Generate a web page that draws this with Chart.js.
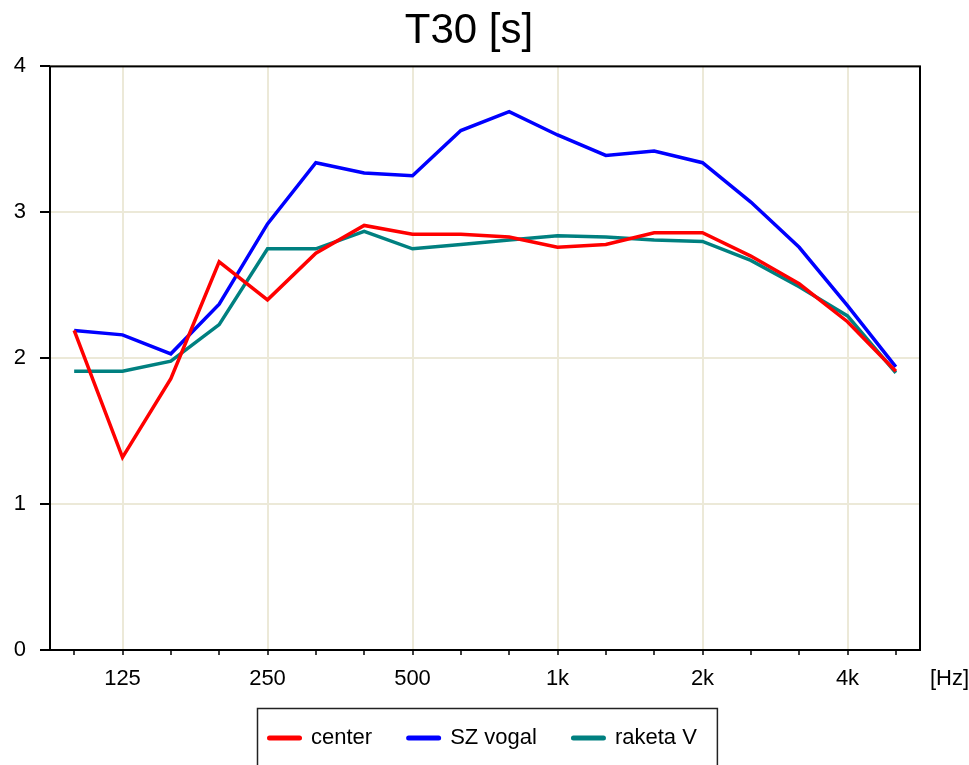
<!DOCTYPE html>
<html><head><meta charset="utf-8">
<script src="https://cdn.jsdelivr.net/npm/chart.js@4/dist/chart.umd.min.js"></script>
<style>html,body{margin:0;padding:0;background:#fff;overflow:hidden}</style>
</head><body>
<canvas id="c" width="969" height="765"></canvas>
<script>
const bands = ['100','125','160','200','250','315','400','500','630','800','1k','1.25k','1.6k','2k','2.5k','3.15k','4k','5k'];
const labeledBands = ['125','250','500','1k','2k','4k'];
const center  = [2.19,1.32,1.86,2.66,2.40,2.72,2.91,2.85,2.85,2.83,2.76,2.78,2.86,2.86,2.70,2.51,2.25,1.91];
const szVogal = [2.19,2.16,2.03,2.37,2.92,3.34,3.27,3.25,3.56,3.69,3.53,3.39,3.42,3.34,3.07,2.76,2.36,1.94];
const raketaV = [1.91,1.91,1.98,2.23,2.75,2.75,2.87,2.75,2.78,2.81,2.84,2.83,2.81,2.80,2.67,2.49,2.29,1.90];
const seriesNames = ['center','SZ vogal','raketa V'];
const seriesColors = ['#ff0000','#0000ff','#008080'];
const titleText = 'T30 [s]';
const xUnit = '[Hz]';
const yMin = 0, yMax = 4, yStep = 1;

const FONT = '"Liberation Sans", Arial, sans-serif';
const GRID = '#ece9d8';

const frameAndExtras = {
  id: 'frameAndExtras',
  afterDraw(chart) {
    const {ctx, chartArea: a} = chart;
    ctx.save();
    // frame
    ctx.strokeStyle = '#000';
    ctx.lineWidth = 2;
    ctx.strokeRect(a.left, a.top, a.right - a.left, a.bottom - a.top);
    // unit label
    ctx.fillStyle = '#000';
    ctx.font = '22px ' + FONT;
    ctx.textBaseline = 'middle';
    ctx.textAlign = 'left';
    ctx.fillText(xUnit, a.right + 10, a.bottom + 29);
    // legend
    const ds = chart.data.datasets;
    const sw = 35, gapST = 9, gapItem = 34, padL = 10, padR = 20;
    const widths = ds.map(d => ctx.measureText(d.label).width);
    let total = padL + padR + gapItem * (ds.length - 1);
    widths.forEach(w => total += sw + gapST + w);
    const cx = (a.left + a.right) / 2 + 2;
    const left = Math.round(cx - total / 2);
    const boxTop = a.bottom + 58;
    const ty = a.bottom + 88;
    ctx.lineWidth = 1.5;
    ctx.strokeStyle = '#222';
    ctx.strokeRect(left + 0.5, boxTop + 0.5, total, chart.height - boxTop + 10);
    let x = left + padL;
    ds.forEach((d, i) => {
      ctx.beginPath();
      ctx.lineCap = 'round';
      ctx.lineWidth = 5;
      ctx.strokeStyle = d.borderColor;
      ctx.moveTo(x + 2.5, ty);
      ctx.lineTo(x + sw - 2.5, ty);
      ctx.stroke();
      ctx.fillStyle = '#000';
      ctx.fillText(d.label, x + sw + gapST, ty);
      x += sw + gapST + widths[i] + gapItem;
    });
    ctx.restore();
  }
};

const seriesData = [center, szVogal, raketaV];
new Chart(document.getElementById('c'), {
  type: 'line',
  data: {
    labels: bands,
    datasets: seriesData.map((d, i) => ({
      label: seriesNames[i],
      data: d,
      borderColor: seriesColors[i],
      backgroundColor: seriesColors[i],
      borderWidth: 3.5,
      pointRadius: 0,
      tension: 0,
      fill: false,
      yAxisID: 'y'
    }))
  },
  options: {
    responsive: false,
    animation: false,
    devicePixelRatio: 1,
    layout: {padding: {top: 6, left: 0, right: 31, bottom: 0}},
    plugins: {
      legend: {display: false},
      tooltip: {enabled: false},
      title: {
        display: true, text: titleText, color: '#000',
        font: {family: FONT, size: 42, weight: 'normal'},
        padding: {top: 0, bottom: 10}
      }
    },
    scales: {
      x: {
        type: 'category',
        offset: true,
        afterFit(s) { s.height = 115; },
        grid: {
          offset: false,
          color: c => (c.tick && labeledBands.includes(bands[c.index])) ? GRID : 'rgba(0,0,0,0)',
          lineWidth: 2,
          tickColor: '#000',
          tickLength: 5,
          tickWidth: 1.5
        },
        border: {display: false},
        ticks: {
          autoSkip: false, maxRotation: 0, minRotation: 0,
          color: '#000', font: {family: FONT, size: 22}, padding: 11,
          callback: (v, i) => labeledBands.includes(bands[i]) ? bands[i] : ''
        }
      },
      y: {
        position: 'left',
        min: yMin, max: yMax,
        afterFit(s) { s.width = 50; },
        grid: {color: GRID, lineWidth: 2, tickColor: '#000', tickLength: 10, tickWidth: 2},
        border: {display: false},
        ticks: {stepSize: yStep, color: '#000', font: {family: FONT, size: 22}, padding: 14}
      },
      yRight: {
        position: 'right',
        min: yMin, max: yMax,
        afterFit(s) { s.width = 18; },
        grid: {display: false, drawTicks: false},
        border: {display: false},
        ticks: {display: false}
      }
    }
  },
  plugins: [frameAndExtras]
});
</script>
</body></html>
